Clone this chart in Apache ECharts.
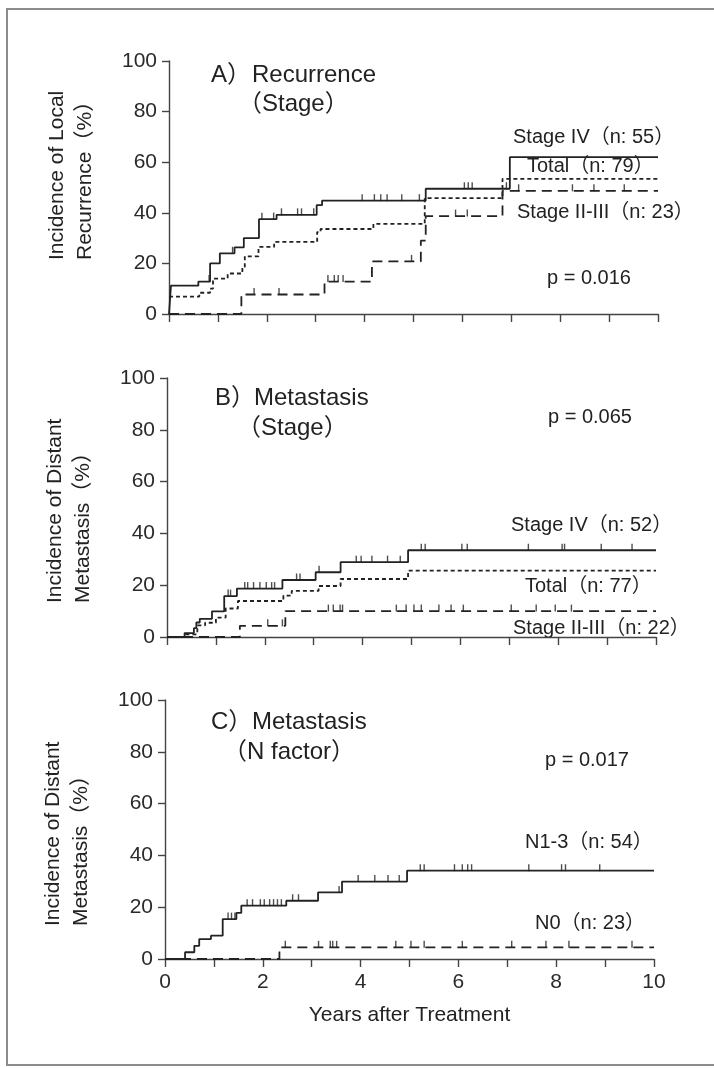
<!DOCTYPE html>
<html>
<head>
<meta charset="utf-8">
<script src="https://cdn.jsdelivr.net/npm/echarts@6/dist/echarts.min.js"></script>
<style>
  html, body { margin: 0; padding: 0; background: #fff; }
  #main { width: 714px; height: 1068px; }
</style>
</head>
<body>
<div id="main"></div>
<script>
// years after treatment, cumulative incidence (%) -- step points [t, value after t]
const aStageIV = [[0,0],[0.04,11.2],[0.6,12.8],[0.84,20],[1.04,24],[1.34,26.3],[1.53,30],[1.84,37.5],[2.2,39.2],[3.02,43],[3.13,44.8],[5.25,49.5],[6.97,62],[10,62]];
const aTotal = [[0,6.9],[0.62,8.4],[0.84,10],[0.9,14],[1.2,16],[1.5,18.6],[1.55,22.8],[1.83,26.5],[2.15,28.5],[3.03,32.4],[3.1,33.6],[4.18,35.6],[5.23,45.8],[6.82,53.4],[10,53.4]];
const aStageII = [[0,0],[1.48,7.7],[3.18,12.8],[4.15,20.8],[5.15,29],[5.25,38.7],[6.82,48.7],[10,48.7]];
const aStageIVCens = [0.82,1.3,1.9,2.14,2.3,2.63,2.71,2.96,3.95,4.2,4.33,4.46,4.76,5.12,6.04,6.12,6.2,6.9];
const aStageIICens = [1.74,2.25,3.25,3.38,3.46,3.56,4.96,5.86,6.1,7.15,8.25,8.69,9.31];

const bStageIV = [[0,0],[0.36,1.5],[0.55,3.4],[0.6,5.6],[0.67,7],[0.92,9.9],[1.17,15.8],[1.43,18.7],[2.36,22],[3.04,25],[3.55,28.9],[4.93,33.5],[10,33.5]];
const bTotal = [[0,0],[0.38,1],[0.62,4.5],[0.78,5.5],[1.0,7.5],[1.2,11],[1.45,13.9],[2.38,16],[2.55,17.8],[3.1,19.7],[3.55,22.4],[4.93,25.6],[10,25.6]];
const bStageII = [[0,0],[1.49,4.3],[2.42,10],[10,10]];
const bStageIVCens = [1.25,1.3,1.59,1.65,1.77,1.9,2.03,2.14,2.2,2.65,2.72,3.11,3.87,3.97,4.19,4.51,4.77,5.2,5.28,6.03,6.14,7.39,8.08,8.13,8.88,9.51];
const bStageIICens = [2.06,2.36,3.3,3.4,3.54,3.59,4.69,4.89,5.05,5.2,5.56,5.81,6.06,7.04,7.55,7.94,8.27];

const cN13 = [[0,0],[0.41,2.6],[0.6,5.1],[0.7,7.7],[0.94,9],[1.18,15.4],[1.46,17.8],[1.56,20.6],[2.48,22.5],[3.13,25.7],[3.62,29.9],[4.95,34.1],[10,34.1]];
const cN0 = [[0,0],[2.34,4.5],[10,4.5]];
const cN13Cens = [1.29,1.36,1.43,1.68,1.79,1.95,2.03,2.14,2.22,2.3,2.38,2.61,2.73,3.56,3.95,4.29,4.56,4.79,5.22,5.3,5.92,6.08,6.19,6.27,7.44,8.11,8.19,8.89];
const cN0Cens = [2.46,3.14,3.38,3.43,3.51,4.72,5.03,5.3,6.08,7.09,7.79,8.26,9.55];

const yTicks = [0, 20, 40, 60, 80, 100];

const INK = '#222';
const FONT = 'Liberation Sans, Arial, Noto Sans CJK JP, sans-serif';
const SHORT = [4, 3];
const LONG = [10, 6];

function stepAt(arr, t) {
    let v = arr[0][1];
    for (let i = 0; i < arr.length; i++) {
        if (arr[i][0] <= t) v = arr[i][1];
    }
    return v;
}

function km(name, data, dash, idx) {
    return {
        name: name, type: 'line', step: 'end', data: data,
        xAxisIndex: idx, yAxisIndex: idx, symbol: 'none', silent: true,
        lineStyle: { color: INK, width: 1.8, type: dash }
    };
}

function cens(arr, times, idx) {
    return {
        type: 'scatter', xAxisIndex: idx, yAxisIndex: idx, silent: true,
        data: times.map(t => [t, stepAt(arr, t)]),
        symbol: 'rect', symbolSize: [1.4, 7], symbolOffset: [0, -3],
        itemStyle: { color: INK }
    };
}

function xAx(idx, labels) {
    return {
        type: 'value', gridIndex: idx, min: 0, max: 10, interval: 1,
        axisLine: { lineStyle: { color: '#444', width: 1.4 } },
        axisTick: { length: 8, lineStyle: { color: '#444', width: 1.4 } },
        splitLine: { show: false },
        axisLabel: {
            show: labels, color: '#2a2a2a', fontSize: 21, fontFamily: FONT, margin: 13,
            formatter: v => (v % 2 === 0 ? String(v) : '')
        }
    };
}

function yAx(idx) {
    return {
        type: 'value', gridIndex: idx, min: 0, max: 100, interval: 20,
        axisLine: { show: true, lineStyle: { color: '#444', width: 1.4 } },
        axisTick: { show: true, length: 7, lineStyle: { color: '#444', width: 1.4 } },
        splitLine: { show: false },
        axisLabel: { color: '#2a2a2a', fontSize: 21, fontFamily: FONT, margin: 12,
            formatter: v => (yTicks.indexOf(v) >= 0 ? String(v) : '') }
    };
}

function txt(x, y, s, size) {
    return { type: 'text', x: x, y: y, silent: true,
        style: { text: s, fill: '#222', fontSize: size || 20, fontFamily: FONT, align: 'left', verticalAlign: 'middle' } };
}

function vtxt(x, y, s) {
    return { type: 'text', x: x, y: y, rotation: Math.PI / 2, silent: true,
        style: { text: s, fill: '#222', fontSize: 21, fontFamily: FONT, align: 'left', verticalAlign: 'middle' } };
}

let myChart = echarts.init(document.getElementById('main'));

let xC = xAx(2, true);
xC.name = 'Years after Treatment';
xC.nameLocation = 'middle';
xC.nameGap = 46;
xC.nameTextStyle = { color: '#222', fontSize: 21, fontFamily: FONT };

let option = {
    animation: false,
    backgroundColor: '#fff',
    grid: [
        { left: 169, top: 61, width: 489, height: 253 },
        { left: 167, top: 378, width: 489, height: 259 },
        { left: 165, top: 700, width: 489, height: 259 }
    ],
    xAxis: [xAx(0, false), xAx(1, false), xC],
    yAxis: [yAx(0), yAx(1), yAx(2)],
    series: [
        km('Stage IV', aStageIV, 'solid', 0),
        km('Total', aTotal, SHORT, 0),
        km('Stage II-III', aStageII, LONG, 0),
        cens(aStageIV, aStageIVCens, 0),
        cens(aStageII, aStageIICens, 0),

        km('Stage IV', bStageIV, 'solid', 1),
        km('Total', bTotal, SHORT, 1),
        km('Stage II-III', bStageII, LONG, 1),
        cens(bStageIV, bStageIVCens, 1),
        cens(bStageII, bStageIICens, 1),

        km('N1-3', cN13, 'solid', 2),
        km('N0', cN0, LONG, 2),
        cens(cN13, cN13Cens, 2),
        cens(cN0, cN0Cens, 2)
    ],
    graphic: [
        { type: 'rect', silent: true, shape: { x: 7, y: 9, width: 720, height: 1056 },
          style: { fill: null, stroke: '#8c8c8c', lineWidth: 2 } },

        vtxt(57, 260, 'Incidence of Local'),
        vtxt(85, 260, 'Recurrence（%）'),
        vtxt(55, 603, 'Incidence of Distant'),
        vtxt(83, 603, 'Metastasis（%）'),
        vtxt(53, 926, 'Incidence of Distant'),
        vtxt(81, 926, 'Metastasis（%）'),

        txt(211, 75, 'A）', 24), txt(252, 75, 'Recurrence', 24), txt(238, 104, '（Stage）', 24),
        txt(513, 137, 'Stage IV（n: 55）'), txt(527, 166, 'Total（n: 79）'),
        txt(517, 212, 'Stage II-III（n: 23）'), txt(547, 278, 'p = 0.016'),

        txt(215, 398, 'B）', 24), txt(254, 398, 'Metastasis', 24), txt(237, 428, '（Stage）', 24),
        txt(548, 417, 'p = 0.065'), txt(511, 525, 'Stage IV（n: 52）'),
        txt(525, 586, 'Total（n: 77）'), txt(513, 628, 'Stage II-III（n: 22）'),

        txt(211, 722, 'C）', 24), txt(252, 722, 'Metastasis', 24), txt(223, 752, '（N factor）', 24),
        txt(545, 760, 'p = 0.017'), txt(525, 842, 'N1-3（n: 54）'), txt(535, 923, 'N0（n: 23）')
    ]
};
myChart.setOption(option);
</script>
</body>
</html>
